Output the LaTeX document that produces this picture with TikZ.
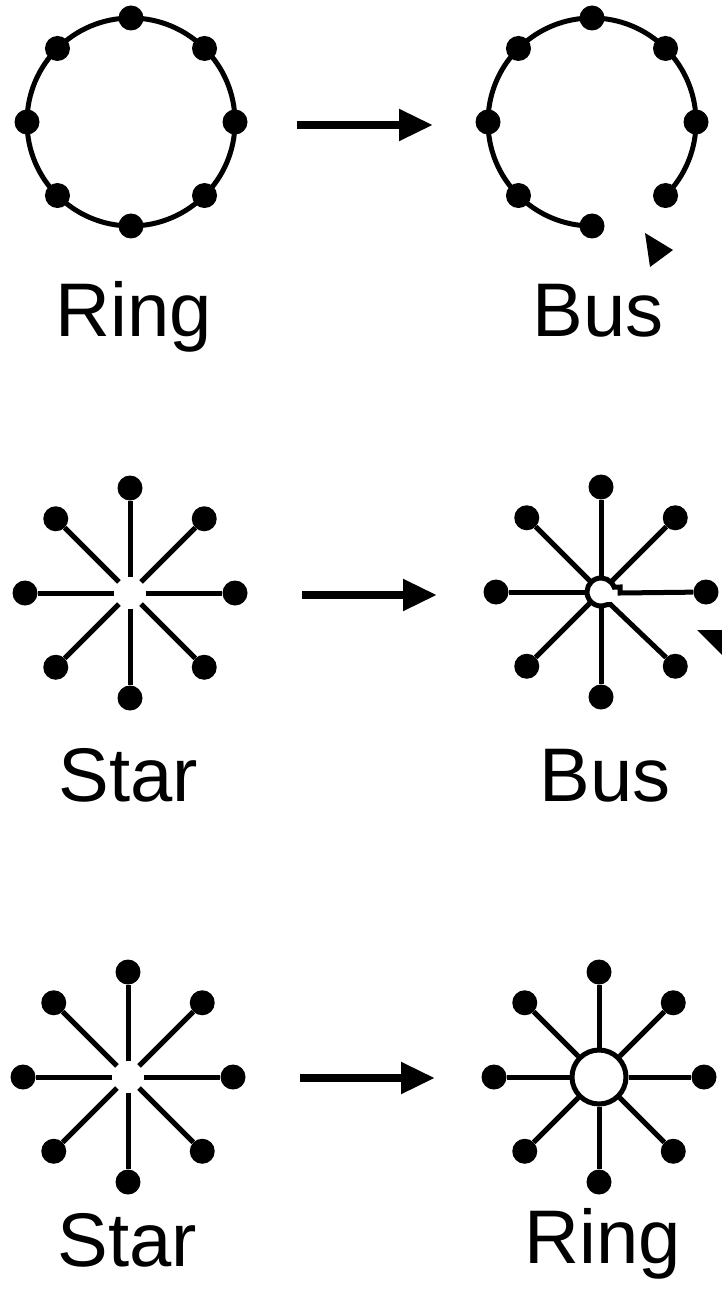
\documentclass[tikz,border=0pt]{standalone}
\usepackage{fontspec}
\setmainfont{Liberation Sans}
\usetikzlibrary{arrows.meta}

\tikzset{
  dot/.style={circle, fill=black, inner sep=0pt, minimum size=25pt},
  hub/.style={circle, fill=white, inner sep=0pt, minimum size=31pt},
  link/.style={line width=5pt},
  bigarrow/.style={line width=8pt, -{Triangle[length=34pt,width=30pt]}},
  topo/.style={font=\fontsize{76}{80}\selectfont, anchor=base}
}

\begin{document}
\begin{tikzpicture}[x=1pt, y=1pt]
      \useasboundingbox (0,0) rectangle (722,-1297);

      % Ring -> Bus
      \begin{scope}[shift={(131,-122)}]
        \draw[link] (0,0) circle (104);
        \foreach \a in {0,45,...,315} {
          \node[dot] (ra\a) at (\a:104) {};
        }
      \end{scope}
      \begin{scope}[shift={(592,-122)}]
        \draw[link] (-45:104) arc[start angle=-45, end angle=270, radius=104];
        \foreach \a in {0,45,...,315} {
          \node[dot] (rb\a) at (\a:104) {};
        }
        \fill (53,-111) -- (81,-128) -- (58,-145) -- cycle;
      \end{scope}
      \coordinate (a1s) at (297,-125);
      \coordinate (a1e) at (433,-125);
      \draw[bigarrow] (a1s) -- (a1e);
      \node[topo] (t1a) at (134,-336) {Ring};
      \node[topo] (t1b) at (598,-336) {Bus};

      % Star -> Bus
      \begin{scope}[shift={(130,-593)}]
        \node[hub] (h2a) at (0,0) {};
        \foreach \a in {0,45,...,315} {
          \node[dot] (sa\a) at (\a:105) {};
          \draw[link] (h2a) -- (sa\a);
        }
      \end{scope}
      \begin{scope}[shift={(601,-592)}]
        \node[hub, minimum size=28pt] (h2b) at (0,0) {};
        \foreach \a in {0,45,...,315} {
          \node[dot] (sb\a) at (\a:105) {};
        }
        \foreach \a in {45,90,...,270} {
          \draw[link] (h2b) -- (sb\a);
        }
        \draw[link] (sb0) -- (19,-1) -- (19,5) -- (20:14)
          arc[start angle=20, end angle=295, radius=14] -- (9.5,-12.5) -- (sb315);
        \fill (96,-38) -- (139,-38) -- (129,-71) -- cycle;
      \end{scope}
      \coordinate (a2s) at (302,-595);
      \coordinate (a2e) at (437,-595);
      \draw[bigarrow] (a2s) -- (a2e);
      \node[topo] (t2a) at (128,-801) {Star};
      \node[topo] (t2b) at (605,-801) {Bus};

      % Star -> Ring
      \begin{scope}[shift={(128,-1077)}]
        \node[hub] (h3a) at (0,0) {};
        \foreach \a in {0,45,...,315} {
          \node[dot] (sc\a) at (\a:105) {};
          \draw[link] (h3a) -- (sc\a);
        }
      \end{scope}
      \begin{scope}[shift={(599,-1077)}]
        \node[hub, draw, link, minimum size=54pt] (h3b) at (0,0) {};
        \foreach \a in {0,45,...,315} {
          \node[dot] (sd\a) at (\a:105) {};
          \draw[link] (h3b) -- (sd\a);
        }
      \end{scope}
      \coordinate (a3s) at (300,-1078);
      \coordinate (a3e) at (435,-1078);
      \draw[bigarrow] (a3s) -- (a3e);
      \node[topo] (t3a) at (127,-1266) {Star};
      \node[topo] (t3b) at (603,-1263) {Ring};
\end{tikzpicture}
\end{document}
